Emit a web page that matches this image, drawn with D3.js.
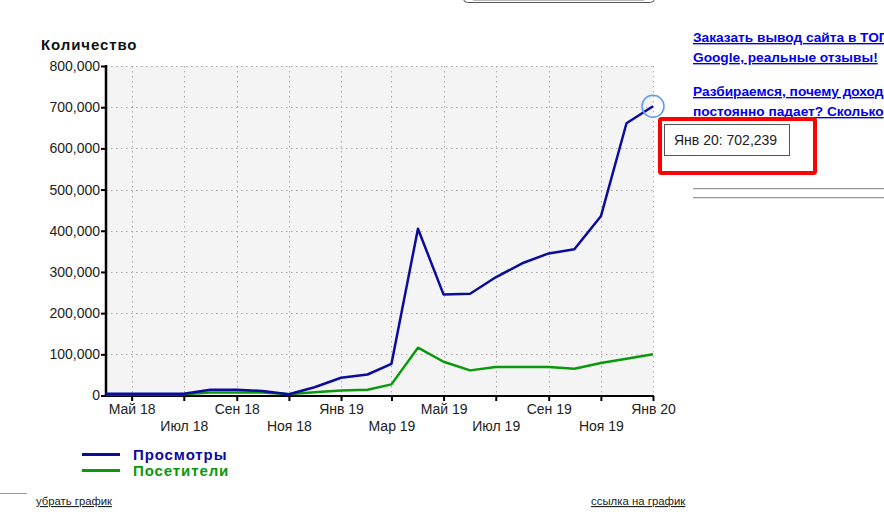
<!DOCTYPE html>
<html><head><meta charset="utf-8">
<script src="https://cdn.jsdelivr.net/npm/d3@7"></script>
<style>
html,body{margin:0;padding:0;background:#fff;overflow:hidden}
svg{display:block;font-family:"Liberation Sans",Arial,sans-serif}
</style></head>
<body>
<svg id="c" width="884" height="519"></svg>
<script>
const months = ["2018-04","2018-05","2018-06","2018-07","2018-08","2018-09","2018-10","2018-11","2018-12",
  "2019-01","2019-02","2019-03","2019-04","2019-05","2019-06","2019-07","2019-08","2019-09","2019-10","2019-11","2019-12","2020-01"];
const views = [4000,4000,4000,4000,14000,14000,11000,3000,20000,43000,51000,77000,405000,245000,247000,287000,321000,345000,355000,435000,661000,702239];
const visitors = [3000,3000,3000,3000,7000,7000,7000,3000,8000,12000,14000,27000,116000,82000,61000,69000,69000,69000,65000,79000,89000,100000];
const yTicks = [0,100000,200000,300000,400000,500000,600000,700000,800000];
const monthNames = ["Янв","Фев","Мар","Апр","Май","Июн","Июл","Авг","Сен","Окт","Ноя","Дек"];
const seriesNames = ["Просмотры","Посетители"];
const seriesColors = ["#0b0b9c","#0a990a"];
const yTitle = "Количество";
const tooltipText = "Янв 20: 702,239";
const sideLinks = ["Заказать вывод сайта в ТОП","Google, реальные отзывы!","Разбираемся, почему доход","постоянно падает? Сколько"];
const bottomLinks = ["убрать график","ссылка на график"];

const parse = d3.timeParse("%Y-%m");
const dates = months.map(parse);
const svg = d3.select("#c");

const x = d3.scaleTime().domain([dates[0], dates[dates.length-1]]).range([106, 653]);
const y = d3.scaleLinear().domain([0, 800000]).range([395.5, 66]);

// top partial box
svg.append("rect").attr("x",463.5).attr("y",-12).attr("width",191).attr("height",14.5).attr("rx",4)
  .attr("fill","#fff").attr("stroke","#555");
svg.append("rect").attr("x",473).attr("y",-2).attr("width",171).attr("height",2.5).attr("fill","#777");

// plot background
svg.append("rect").attr("x",106).attr("y",66).attr("width",547).attr("height",329.5).attr("fill","#f4f4f4");

// grid
const xTicks = d3.timeMonth.every(2).range(parse("2018-05"), d3.timeMonth.offset(dates[dates.length-1],1));
const grid = svg.append("g").attr("stroke","#aaa").attr("stroke-width",1).attr("stroke-dasharray","1.5,3.5");
grid.selectAll(".h").data(yTicks.filter(d=>d>0)).join("line")
  .attr("x1",106).attr("x2",653).attr("y1",d=>Math.round(y(d))+0.5).attr("y2",d=>Math.round(y(d))+0.5);
grid.selectAll(".v").data(xTicks).join("line")
  .attr("x1",d=>Math.round(x(d))+0.5).attr("x2",d=>Math.round(x(d))+0.5).attr("y1",66).attr("y2",395);

// y axis
const yAxis = svg.append("g").attr("transform","translate(106,0)")
  .call(d3.axisLeft(y).tickValues(yTicks).tickSize(5).tickPadding(1).tickFormat(d3.format(",")));
yAxis.select(".domain").remove();
yAxis.selectAll("line").attr("stroke","#000").attr("stroke-width",2);
yAxis.selectAll("text").attr("font-size",14).attr("fill","#222").attr("font-family","Liberation Sans, Arial, sans-serif");

// x axis
const xAxis = svg.append("g").attr("transform","translate(0,396)")
  .call(d3.axisBottom(x).tickValues(xTicks).tickSize(5).tickPadding(3)
    .tickFormat(d=>monthNames[d.getMonth()]+" "+String(d.getFullYear()).slice(2)));
xAxis.select(".domain").remove();
xAxis.selectAll("line").attr("stroke","#000").attr("stroke-width",2);
xAxis.selectAll("text").attr("font-size",14).attr("fill","#222").attr("font-family","Liberation Sans, Arial, sans-serif")
  .attr("dy",(d,i)=> i%2===0 ? "0.71em" : "1.95em");

// axis lines
svg.append("line").attr("x1",106).attr("x2",106).attr("y1",65).attr("y2",397).attr("stroke","#000").attr("stroke-width",2.5);
svg.append("line").attr("x1",105).attr("x2",654).attr("y1",396).attr("y2",396).attr("stroke","#000").attr("stroke-width",2);

// title
svg.append("text").attr("x",41).attr("y",50).attr("font-size",15).attr("font-weight","bold")
  .attr("letter-spacing","0.9px").attr("fill","#111").text(yTitle);

// lines
const line = d3.line().x((d,i)=>x(dates[i])).y(d=>y(d));
[views, visitors].slice().reverse().forEach((s,k)=>{
  const idx = 1-k;
  svg.append("path").attr("d",line(s)).attr("fill","none").attr("stroke",seriesColors[idx])
    .attr("stroke-width",2.5).attr("stroke-linejoin","round");
});

// highlight circle
const lastI = views.length-1;
svg.append("circle").attr("cx",x(dates[lastI])).attr("cy",y(views[lastI])).attr("r",11)
  .attr("fill","none").attr("stroke","#5b9cf0").attr("stroke-width",1.5);

// legend
seriesNames.forEach((n,i)=>{
  const ly = 454.5 + i*16;
  svg.append("line").attr("x1",82).attr("x2",120).attr("y1",ly).attr("y2",ly)
    .attr("stroke",seriesColors[i]).attr("stroke-width",3);
  svg.append("text").attr("x",133).attr("y",ly+5).attr("font-size",15).attr("font-weight","bold")
    .attr("letter-spacing","0.9px").attr("fill",seriesColors[i]).text(n);
});

// bottom
svg.append("line").attr("x1",0).attr("x2",27).attr("y1",493.5).attr("y2",493.5).attr("stroke","#999");
svg.append("text").attr("x",36).attr("y",505).attr("font-size",11.3).attr("fill","#222")
  .attr("text-decoration","underline").text(bottomLinks[0]);
svg.append("text").attr("x",591).attr("y",505).attr("font-size",11.4).attr("fill","#222")
  .attr("text-decoration","underline").text(bottomLinks[1]);

// side links
[[42,0],[62,1],[96,2],[116,3]].forEach(([yy,i])=>{
  svg.append("text").attr("x",693).attr("y",yy).attr("font-size",13.7).attr("font-weight","bold")
    .attr("fill","#0000ee").attr("text-decoration","underline").text(sideLinks[i]);
});
// separators
[188,197].forEach(yy=>{
  svg.append("line").attr("x1",693).attr("x2",884).attr("y1",yy+0.5).attr("y2",yy+0.5).attr("stroke","#999");
  svg.append("line").attr("x1",693).attr("x2",884).attr("y1",yy+1.5).attr("y2",yy+1.5).attr("stroke","#e4e4e4");
});

// red highlight + tooltip
svg.append("rect").attr("x",660).attr("y",119).attr("width",155).attr("height",54).attr("rx",1.5)
  .attr("fill","none").attr("stroke","#ff0000").attr("stroke-width",4);
svg.append("rect").attr("x",664.5).attr("y",124.5).attr("width",125).attr("height",31)
  .attr("fill","#fff").attr("stroke","#555");
svg.append("text").attr("x",674).attr("y",145).attr("font-size",14).attr("fill","#222")
  .attr("font-family","Liberation Sans, Arial, sans-serif").text(tooltipText);
</script>
</body></html>
